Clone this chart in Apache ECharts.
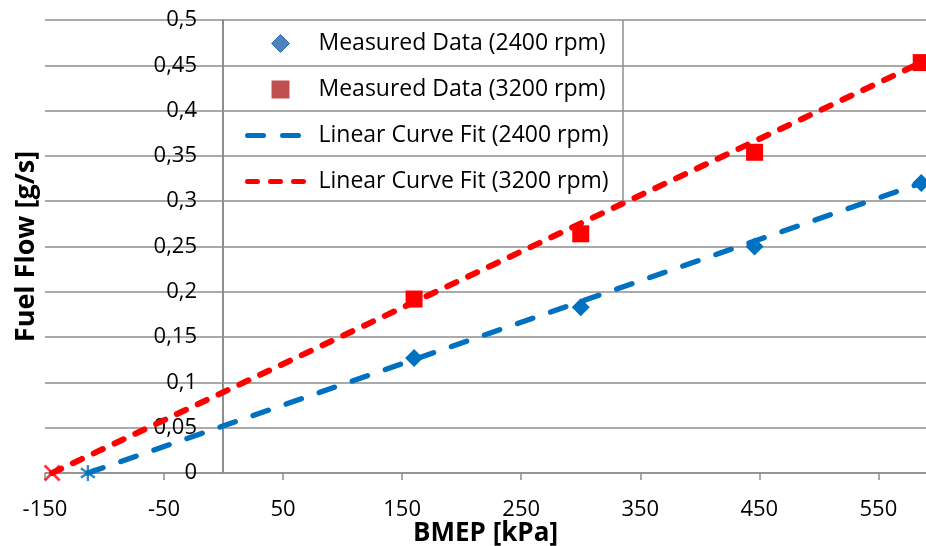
<!DOCTYPE html>
<html>
<head>
<meta charset="utf-8">
<script src="https://cdn.jsdelivr.net/npm/echarts@6/dist/echarts.min.js"></script>
<style>html,body{margin:0;padding:0;background:#fff}#c{width:926px;height:546px}</style>
</head>
<body>
<div id="c"></div>
<script>
// ---- data ----
const bmepMeasured = [160, 300, 446, 586];
const fuel2400 = [0.127, 0.183, 0.250, 0.320];
const fuel3200 = [0.192, 0.264, 0.354, 0.453];
const fit2400X = [-114, 586];
const fit2400Y = [0, 0.320];
const fit3200X = [-144, 586];
const fit3200Y = [0, 0.453];
const intercept2400 = [-114, 0];
const intercept3200 = [-144, 0];
const xTickValues = [-150, -50, 50, 150, 250, 350, 450, 550];
const seriesNames = ['Measured Data (2400 rpm)', 'Measured Data (3200 rpm)', 'Linear Curve Fit (2400 rpm)', 'Linear Curve Fit (3200 rpm)'];
const legendBoxRightX = 335;

const FONT = 'Open Sans';
const GRID = '#8e8e8e';
const NONE = 'rgba(0,0,0,0)';
const zip = (xs, ys) => xs.map((x, i) => [x, ys[i]]);
const fmtY = v => (+v.toFixed(2)).toString().replace('.', ',');

const chart = echarts.init(document.getElementById('c'), null, {renderer: 'canvas'});
chart.setOption({
  animation: false,
  backgroundColor: '#fff',
  grid: {left: 45, right: 0, top: 20, bottom: 73, containLabel: false, outerBoundsMode: 'none'},
  xAxis: {
    type: 'value', min: -150, max: 590,
    name: 'BMEP [kPa]', nameLocation: 'middle', nameGap: 48, nameMoveOverlap: false,
    nameTextStyle: {fontFamily: FONT, fontSize: 26, fontWeight: 'bold', color: '#000'},
    axisLine: {show: true, onZero: false, lineStyle: {color: GRID, width: 1.5}},
    axisTick: {show: true, length: 7, customValues: xTickValues, lineStyle: {color: GRID, width: 1.5}},
    axisLabel: {customValues: xTickValues, fontFamily: FONT, fontSize: 22, color: '#000', margin: 26},
    splitLine: {show: false}
  },
  yAxis: {
    type: 'value', min: 0, max: 0.5, interval: 0.05,
    offset: -178,
    name: 'Fuel Flow [g/s]', nameLocation: 'middle', nameGap: 183, nameMoveOverlap: false,
    nameTextStyle: {fontFamily: FONT, fontSize: 27, fontWeight: 'bold', color: '#000'},
    axisLine: {show: true, onZero: false, lineStyle: {color: GRID, width: 2}},
    axisTick: {show: false},
    axisLabel: {formatter: fmtY, fontFamily: FONT, fontSize: 22, color: '#000', margin: 26},
    splitLine: {show: true, lineStyle: {color: GRID, width: 1.5}}
  },
  legend: {
    orient: 'vertical', left: 240, top: 27,
    itemWidth: 66, itemHeight: 18, itemGap: 23, symbolKeepAspect: true,
    textStyle: {fontFamily: FONT, fontSize: 23, color: '#000', lineHeight: 18},
    lineStyle: {width: 5},
    data: [
      {name: seriesNames[0], icon: 'path://M5,0L10,5L5,10L0,5Z', itemStyle: {color: '#4F81BD', borderColor: '#2E75B6', borderWidth: 1}},
      {name: seriesNames[1], icon: 'path://M0,0L10,0L10,10L0,10Z', itemStyle: {color: '#C0504D', borderWidth: 0}},
      {name: seriesNames[2]},
      {name: seriesNames[3]}
    ]
  },
  series: [
    {
      name: seriesNames[2], type: 'line', data: zip(fit2400X, fit2400Y),
      symbol: 'circle', showSymbol: false, z: 3,
      lineStyle: {color: '#0070C0', width: 5.5, type: [16, 19], cap: 'round'},
      itemStyle: {color: NONE, borderColor: NONE, borderWidth: 0}
    },
    {
      name: seriesNames[3], type: 'line', data: zip(fit3200X, fit3200Y),
      symbol: 'circle', showSymbol: false, z: 3,
      lineStyle: {color: '#FF0000', width: 6, type: [10, 13], cap: 'round'},
      itemStyle: {color: NONE, borderColor: NONE, borderWidth: 0},
      markLine: {
        silent: true, symbol: 'none', label: {show: false},
        lineStyle: {color: GRID, width: 1.5, type: 'solid'},
        data: [[{coord: [legendBoxRightX, 0.3]}, {coord: [legendBoxRightX, 0.5]}]]
      }
    },
    {
      name: seriesNames[0], type: 'scatter', data: zip(bmepMeasured, fuel2400),
      symbol: 'diamond', symbolSize: 18, z: 4,
      itemStyle: {color: '#0070C0', opacity: 1}
    },
    {
      name: seriesNames[1], type: 'scatter', data: zip(bmepMeasured, fuel3200),
      symbol: 'rect', symbolSize: 17, z: 4,
      itemStyle: {color: '#FF0000', opacity: 1}
    },
    {
      name: 'intercept2400', type: 'scatter', data: [intercept2400],
      symbol: 'path://M6,0L6,14M0,3L12,11M0,11L12,3', symbolSize: [14, 16], z: 5,
      itemStyle: {color: NONE, borderColor: '#0070C0', borderWidth: 2.5}
    },
    {
      name: 'intercept3200', type: 'scatter', data: [intercept3200],
      symbol: 'path://M0,0L12,12M0,12L12,0', symbolSize: [15, 15], z: 5,
      itemStyle: {color: NONE, borderColor: '#FF0000', borderWidth: 2.5}
    }
  ]
});
</script>
</body>
</html>
